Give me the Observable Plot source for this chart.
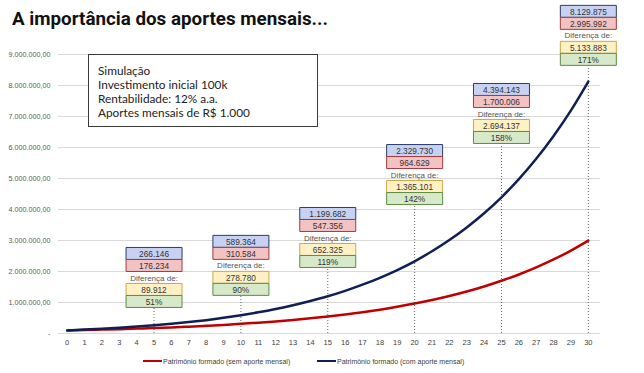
<!DOCTYPE html>
<html>
<head>
<meta charset="utf-8">
<script src="https://cdn.jsdelivr.net/npm/d3@7"></script>
<script src="https://cdn.jsdelivr.net/npm/@observablehq/plot@0.6"></script>
<style>
  html, body { margin: 0; padding: 0; background: #fff; }
  #wrap { position: relative; width: 644px; height: 373px; overflow: hidden; font-family: "Liberation Sans", Arial, sans-serif; }
  #title { position: absolute; left: 12px; top: 7px; font-family: Roboto, sans-serif; font-weight: 700; font-size: 18.8px; line-height: 24px; color: #111; white-space: nowrap; }
  #sim { position: absolute; left: 88px; top: 54px; width: 228px; height: 71px; border: 1px solid #3a3a3a; background: #fff; padding: 0; box-sizing: content-box; }
  #sim div { position: absolute; left: 9px; font-family: "Lato", sans-serif; font-size: 11.8px; color: #222; white-space: nowrap; line-height: 14px; }
  .leg { position: absolute; top: 355px; height: 12px; font-size: 7px; color: #404040; white-space: nowrap; display: flex; align-items: center; }
  .leg span.sw { display: inline-block; width: 19px; height: 2.5px; margin-right: 1px; }
  #chart { position: absolute; left: 0; top: 0; }
</style>
</head>
<body>
<div id="wrap">
  <div id="chart"></div>
  <div id="title">A importância dos aportes mensais...</div>
  <div id="sim"></div>
  <div id="legend"></div>
</div>
<script>
// ---- Data ----
const years = [0,1,2,3,4,5,6,7,8,9,10,11,12,13,14,15,16,17,18,19,20,21,22,23,24,25,26,27,28,29,30];
const semAporte = [100000,112000,125440,140493,157352,176234,197382,221068,247596,277308,310585,347855,389598,436349,488711,547357,613039,686604,768997,861276,964629,1080385,1210031,1355235,1517863,1700006,1904007,2132488,2388387,2674993,2995992];
const comAporte = [100000,125340,154120,186800,223900,266146,312500,367300,431100,504800,589364,685200,792700,914000,1050000,1199682,1376200,1574200,1796800,2047400,2329730,2653000,3015400,3422300,3880600,4394143,4980700,5636900,6372900,7197400,8129875];

const markYears = [5,10,15,20,25,30];
const markCom = [266146,589364,1199682,2329730,4394143,8129875];
const markSem = [176234,310584,547356,964629,1700006,2995992];
const markDiff = [89912,278780,652325,1365101,2694137,5133883];
const markPct = [51,90,119,142,158,171];
// annotation anchor (bottom of each label stack), in chart value units
const markAnchor = [840000,1230000,2130000,4160000,6130000,8650000];

const yTicks = [0,1000000,2000000,3000000,4000000,5000000,6000000,7000000,8000000,9000000];
const xTicks = years;

const simLines = ["Simulação","Investimento inicial 100k","Rentabilidade: 12% a.a.","Aportes mensais de R$ 1.000"];
const legendItems = [
  {label: "Patrimônio formado (sem aporte mensal)", color: "#C00000"},
  {label: "Patrimônio formado (com aporte mensal)", color: "#0F1F55"}
];

// ---- Build ----
const ptBR = d3.formatLocale({decimal: ",", thousands: ".", grouping: [3], currency: ["R$ ", ""]});
const fmt2 = ptBR.format(",.2f");
const fmtInt = ptBR.format(",d");

const series = years.map((y, i) => ({year: y, sem: semAporte[i], com: comAporte[i]}));
const marks = markYears.map((y, i) => ({
  year: y, com: markCom[i], sem: markSem[i], diff: markDiff[i], pct: markPct[i], anchor: markAnchor[i]
}));

const boxSymbol = { draw(context) { context.rect(-28, -6, 56, 12); } };

function boxRow(dy, fill, stroke, textFn) {
  return [
    Plot.dot(marks, {x: "year", y: "anchor", dy, symbol: boxSymbol, fill, stroke, strokeWidth: 1}),
    Plot.text(marks, {x: "year", y: "anchor", dy: dy + 0.5, text: textFn, fontSize: 8.3, fill: "#333"})
  ];
}

const chart = Plot.plot({
  width: 644,
  height: 373,
  marginLeft: 58,
  marginRight: 44,
  marginTop: 54,
  marginBottom: 40,
  style: {fontFamily: "'Liberation Sans', Arial, sans-serif", background: "transparent", overflow: "visible"},
  x: {type: "linear", domain: [-0.5, 30.7]},
  y: {domain: [0, 9000000]},
  marks: [
    Plot.ruleY(yTicks, {stroke: "#d9d9d9", strokeWidth: 1}),
    Plot.axisY({ticks: yTicks, tickSize: 0, tickPadding: 8, fontSize: 7.2, fill: "#595959",
      tickFormat: d => d === 0 ? "-" : fmt2(d), label: null}),
    Plot.axisX({ticks: xTicks, tickSize: 0, tickPadding: 6, fontSize: 7.5, fill: "#404040",
      tickFormat: d => String(d), label: null}),
    Plot.ruleX(marks, {x: "year", y1: 0, y2: "anchor", stroke: "#666", strokeWidth: 1, strokeDasharray: "1,2"}),
    Plot.line(series, {x: "year", y: "sem", stroke: "#C00000", strokeWidth: 2.5, curve: "monotone-x"}),
    Plot.line(series, {x: "year", y: "com", stroke: "#0F1F55", strokeWidth: 2.5, curve: "monotone-x"}),
    ...boxRow(-54, "#C7D2F3", "#2E3A6E", d => fmtInt(d.com)),
    ...boxRow(-42, "#F3C2C3", "#A33A3C", d => fmtInt(d.sem)),
    Plot.text(marks, {x: "year", y: "anchor", dy: -29.5, text: () => "Diferença de:", fontSize: 8, fill: "#555"}),
    ...boxRow(-18, "#FFF1C4", "#C9A84A", d => fmtInt(d.diff)),
    ...boxRow(-6, "#D6E9C9", "#5E8B44", d => d.pct + "%")
  ]
});
document.getElementById("chart").appendChild(chart);

const sim = document.getElementById("sim");
simLines.forEach((t, i) => {
  const d = document.createElement("div");
  d.textContent = t;
  d.style.top = (9 + i * 14) + "px";
  sim.appendChild(d);
});

const legend = document.getElementById("legend");
const legLefts = [143, 317];
legendItems.forEach((it, i) => {
  const d = document.createElement("div");
  d.className = "leg";
  d.style.left = legLefts[i] + "px";
  const sw = document.createElement("span");
  sw.className = "sw";
  sw.style.background = it.color;
  d.appendChild(sw);
  const t = document.createElement("span");
  t.textContent = it.label;
  d.appendChild(t);
  legend.appendChild(d);
});
</script>
</body>
</html>
